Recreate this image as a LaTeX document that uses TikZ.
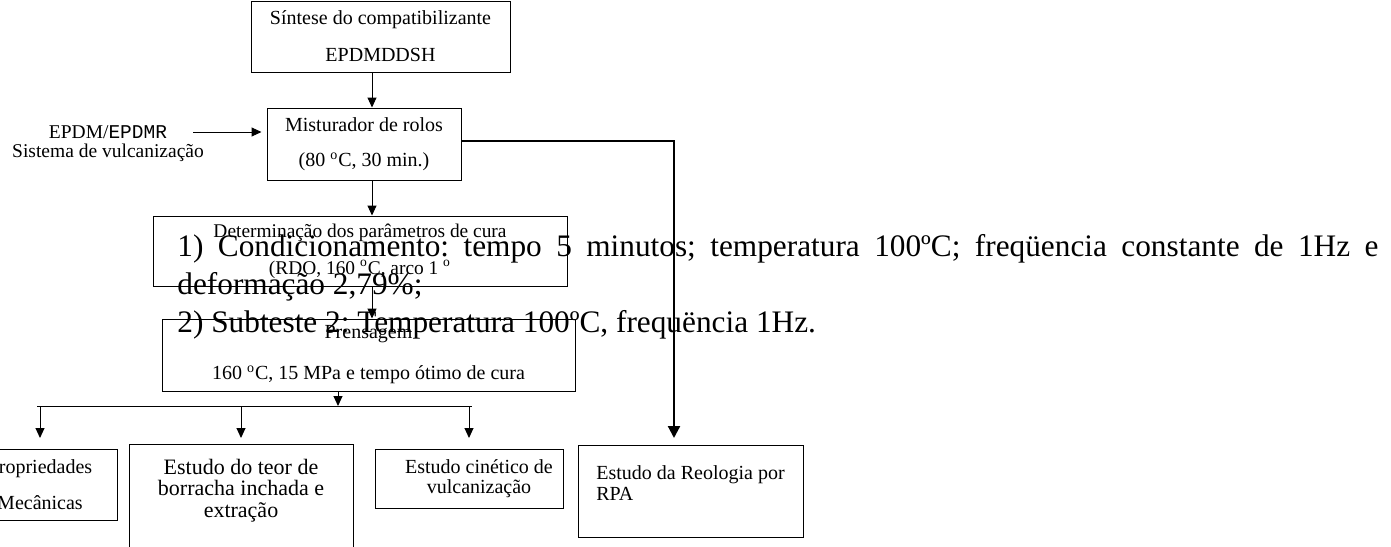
\documentclass[tikz,border=0pt]{standalone}
\usepackage{fontspec}
\setmainfont{Liberation Serif}
\newfontfamily\courierfont{Liberation Mono}
\usetikzlibrary{arrows.meta}

\tikzset{
  box/.style={draw, line width=0.5pt, inner sep=0pt, align=center, font=\fontsize{10}{18.5}\selectfont},
  arr/.style={-{Triangle[length=5pt,width=4.5pt]}, line width=0.5pt},
  bigarr/.style={-{Triangle[length=6pt,width=6pt]}, line width=1.1pt},
  condtext/.style={inner sep=0pt, text width=600.5pt, align=justify, font=\fontsize{15.65}{19}\selectfont\frenchspacing}
}

\begin{document}
\begin{tikzpicture}[x=0.5pt, y=-0.5pt]
\useasboundingbox (0,0) rectangle (1391,546);
\clip (0,0) rectangle (1391,546);

%%%%%%%%%%%%    process boxes   %%%%%%%%%%%%
\node[box, minimum width=129.5pt, minimum height=35.5pt] (sint) at (380.5,36.5) {S\'intese do compatibilizante\\EPDMDDSH};
\node[box, minimum width=97pt, minimum height=36pt, font=\fontsize{10}{17.5}\selectfont] (mist) at (364,144) {Misturador de rolos\\(80 \textsuperscript{o}C, 30 min.)};
\node[box, minimum width=207pt, minimum height=35pt, font=\fontsize{9.7}{18.5}\selectfont] (det) at (360,251) {Determinação dos parâmetros de cura\\(RDO, 160 \textsuperscript{o}C, arco 1 \textsuperscript{o}};
\node[box, minimum width=206.5pt, minimum height=36pt, font=\fontsize{10}{20.5}\selectfont] (pren) at (368.5,355) {Prensagem\\160 \textsuperscript{o}C, 15 MPa e tempo ótimo de cura};

% input
\node[align=center, inner sep=0pt, font=\fontsize{9.75}{9.5}\selectfont] (epdm) at (108,144) {EPDM/{\courierfont EPDMR}\\Sistema de vulcanização};

% results
\node[box, minimum width=77pt, minimum height=35.5pt, font=\fontsize{10}{18}\selectfont] (prop) at (40,484.5) {Propriedades\\Mecânicas};
\node[box, minimum width=112pt, minimum height=52pt, font=\fontsize{11}{10.75}\selectfont, text height=27pt, text depth=6pt] (teor) at (241,496) {Estudo do teor de\\borracha inchada e\\extração};
\node[box, minimum width=94pt, minimum height=29.5pt, font=\fontsize{10}{10}\selectfont] (cin) at (469,478.5) {\hspace*{10pt}Estudo cinético de\\\hspace*{10pt}vulcanização};
\node[box, align=left, minimum width=112.5pt, minimum height=46pt, font=\fontsize{10}{10.5}\selectfont, text height=17.5pt, text depth=8.5pt] (rpa) at (690.5,491) {Estudo da Reologia por\\RPA};

%%%%%%%%%%%%    connectors   %%%%%%%%%%%%
\coordinate (c1) at (372,0);
\coordinate (ein) at (193,132);
\coordinate (rt) at (674,141);
\coordinate (pd) at (338,406);
\coordinate (busl) at (37,406);
\coordinate (busr) at (472,406);
\coordinate (tip) at (0,438);

\draw[arr] (c1 |- sint.south) -- (c1 |- mist.north);
\draw[arr] (c1 |- mist.south) -- (c1 |- det.north);
\draw[arr] (c1 |- det.south) -- (c1 |- pren.north);
\draw[arr, shorten >=2.5pt] (ein) -- (ein -| mist.west);
\draw[bigarr] (mist.east |- rt) -- (rt) -- (rt |- tip);

\draw[arr] (pd |- pren.south) -- (pd);
\draw[line width=0.5pt] (busl) -- (busr);
\foreach \b in {prop,teor,cin}
  \draw[arr] (busl -| \b.north) -- (tip -| \b.north);

% test conditions
\node[condtext, anchor=base west] (cond) at (177,256) {1) Condicionamento: tempo 5 minutos; temperatura 100ºC; freqüencia constante de 1Hz e\linebreak deformação 2,79\%;\par 2) Subteste 2: Temperatura 100ºC, frequëncia 1Hz.};

\end{tikzpicture}
\end{document}
